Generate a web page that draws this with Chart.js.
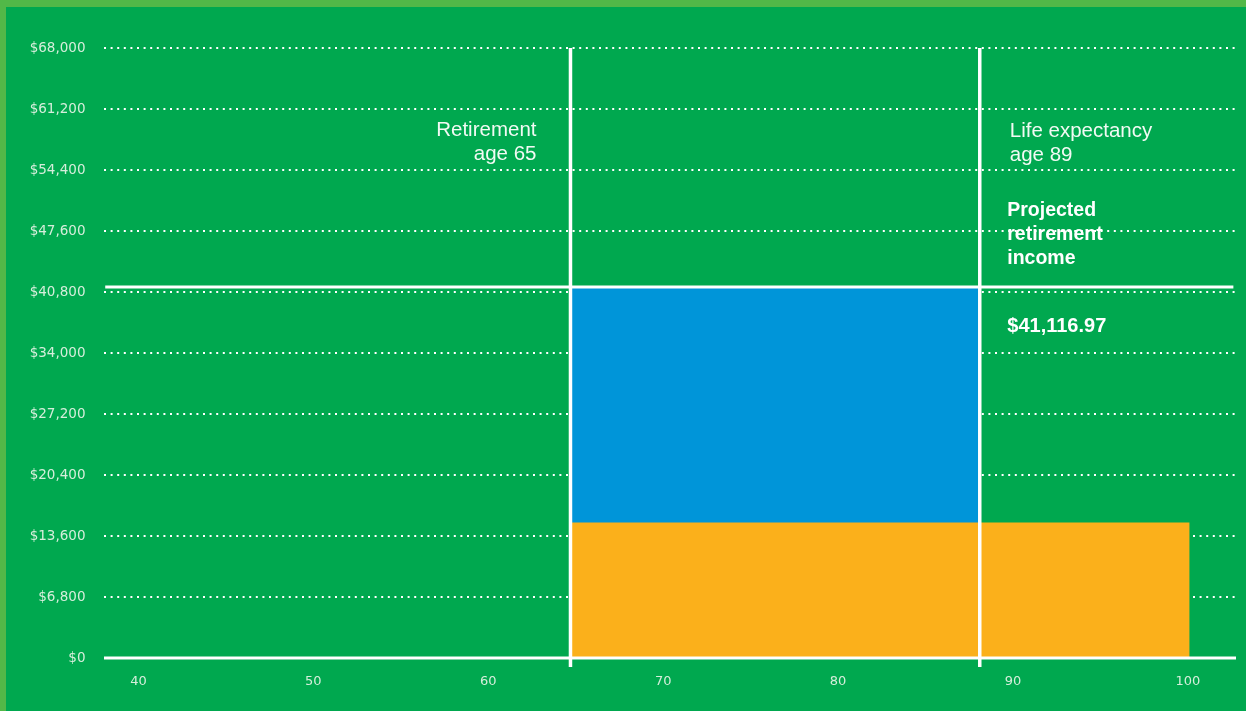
<!DOCTYPE html>
<html>
<head>
<meta charset="utf-8">
<script src="https://cdn.jsdelivr.net/npm/chart.js@4/dist/chart.umd.min.js"></script>
<style>
  html, body { margin: 0; padding: 0; background: #00a84f; }
  #wrap { width: 1246px; height: 711px; position: relative; }
</style>
</head>
<body>
<div id="wrap"><canvas id="c" width="1246" height="711"></canvas></div>
<script>
// ---- data ----
const xTickLabels = [40, 50, 60, 70, 80, 90, 100];
const yTickValues = [0, 6800, 13600, 20400, 27200, 34000, 40800, 47600, 54400, 61200, 68000];
const keyAges = [64.7, 88.1];            // retirement line, life expectancy line
const blueAges = [64.7, 88.0];           // projected retirement income block
const blueValues = [41300, 41300];
const orangeAges = [64.7, 100.1];        // base income block
const orangeValues = [15100, 15100];
const incomeLineValue = [41350, 41350];
const axisRange = [38.03, 102.75];
const yRange = [0, 68000];
const retirementLabel = ['Retirement', 'age 65'];
const lifeLabel = ['Life expectancy', 'age 89'];
const incomeLabel = ['Projected', 'retirement', 'income'];
const incomeAmount = '$41,116.97';

const GREEN = '#00a84f', BORDER = '#52b848', BLUE = '#0095d9', ORANGE = '#fbb01b';

const bgPlugin = {
  id: 'bg',
  beforeDraw(chart) {
    const ctx = chart.ctx;
    ctx.save();
    ctx.fillStyle = BORDER;
    ctx.fillRect(0, 0, chart.width, chart.height);
    ctx.fillStyle = GREEN;
    ctx.fillRect(6, 7, chart.width - 6, chart.height - 7);
    ctx.restore();
  }
};

const textPlugin = {
  id: 'texts',
  afterDatasetsDraw(chart) {
    const ctx = chart.ctx;
    const xs = chart.scales.x;
    const top = chart.chartArea.top;
    const xr = xs.getPixelForValue(keyAges[0]);
    const xl = xs.getPixelForValue(keyAges[1]);
    ctx.save();
    ctx.textBaseline = 'alphabetic';
    ctx.fillStyle = '#f2faf4';
    ctx.font = '20.5px "Liberation Sans", Arial, sans-serif';
    ctx.textAlign = 'right';
    retirementLabel.forEach((t, i) => ctx.fillText(t, xr - 34, top + 88 + i * 24));
    ctx.textAlign = 'left';
    lifeLabel.forEach((t, i) => ctx.fillText(t, xl + 30, top + 88.5 + i * 24));
    ctx.fillStyle = '#ffffff';
    ctx.font = 'bold 19.5px "Liberation Sans", Arial, sans-serif';
    incomeLabel.forEach((t, i) => ctx.fillText(t, xl + 27.5, top + 167.5 + i * 24));
    ctx.font = 'bold 20px "Liberation Sans", Arial, sans-serif';
    ctx.fillText(incomeAmount, xl + 27.5, top + 283.5);
    ctx.restore();
  }
};

const common = { pointRadius: 0, pointHoverRadius: 0, tension: 0 };

new Chart(document.getElementById('c'), {
  type: 'line',
  data: {
    datasets: [
      Object.assign({
        label: 'retirement line',
        data: [{x: keyAges[0], y: -1000}, {x: keyAges[0], y: yRange[1]}],
        borderColor: '#ffffff', borderWidth: 3.5, fill: false, clip: false, order: 1
      }, common),
      Object.assign({
        label: 'life expectancy line',
        data: [{x: keyAges[1], y: -1000}, {x: keyAges[1], y: yRange[1]}],
        borderColor: '#ffffff', borderWidth: 3.5, fill: false, clip: false, order: 1
      }, common),
      Object.assign({
        label: 'income line',
        data: [{x: 38.1, y: incomeLineValue[0]}, {x: 102.6, y: incomeLineValue[1]}],
        borderColor: '#ffffff', borderWidth: 3, fill: false, clip: false, order: 2
      }, common),
      Object.assign({
        label: 'axis',
        data: [{x: axisRange[0], y: 0}, {x: axisRange[1], y: 0}],
        borderColor: '#ffffff', borderWidth: 3, fill: false, clip: false, order: 2
      }, common),
      Object.assign({
        label: 'base income',
        data: orangeAges.map((a, i) => ({x: a, y: orangeValues[i]})),
        borderColor: 'rgba(0,0,0,0)', borderWidth: 0, backgroundColor: ORANGE, fill: 'origin', order: 4
      }, common),
      Object.assign({
        label: 'projected income',
        data: blueAges.map((a, i) => ({x: a, y: blueValues[i]})),
        borderColor: 'rgba(0,0,0,0)', borderWidth: 0, backgroundColor: BLUE, fill: 'origin', order: 5
      }, common)
    ]
  },
  options: {
    responsive: false,
    animation: false,
    devicePixelRatio: 1,
    layout: { padding: { top: 48, left: 0, right: 10, bottom: 0 } },
    plugins: { legend: { display: false }, tooltip: { enabled: false } },
    scales: {
      x: {
        type: 'linear',
        min: axisRange[0], max: axisRange[1],
        grid: { display: false, drawTicks: false },
        border: { display: false },
        afterBuildTicks(scale) { scale.ticks = xTickLabels.map(v => ({ value: v })); },
        afterFit(scale) { scale.height = 53; },
        ticks: {
          color: '#d5eedb',
          font: { family: '"DejaVu Sans", sans-serif', size: 13 },
          padding: 16,
          maxRotation: 0,
          autoSkip: false
        }
      },
      y: {
        type: 'linear',
        min: yRange[0], max: yRange[1],
        grid: { color: '#ffffff', lineWidth: 2, drawTicks: false },
        border: { display: false, dash: [2, 4.6] },
        afterBuildTicks(scale) { scale.ticks = yTickValues.map(v => ({ value: v })); },
        afterFit(scale) { scale.width = 104; },
        ticks: {
          color: '#d5eedb',
          font: { family: '"DejaVu Sans", sans-serif', size: 13.5 },
          padding: 18.5,
          autoSkip: false,
          callback: v => '$' + Number(v).toLocaleString('en-US')
        }
      }
    }
  },
  plugins: [bgPlugin, textPlugin]
});
</script>
</body>
</html>
